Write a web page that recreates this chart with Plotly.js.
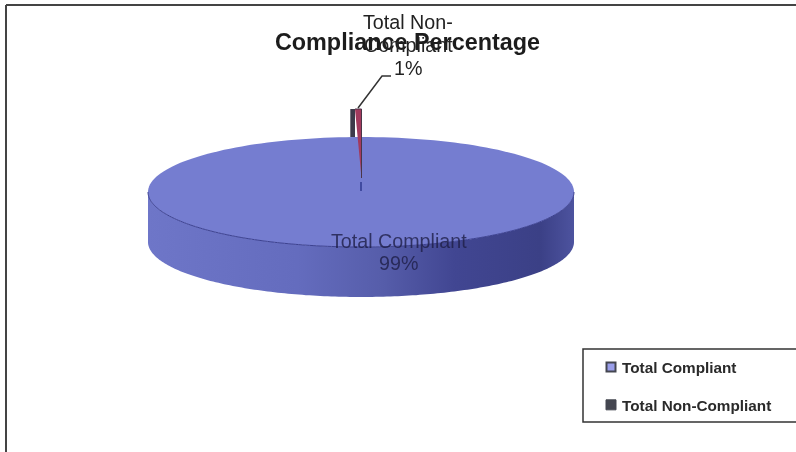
<!DOCTYPE html>
<html><head><meta charset="utf-8">
<script src="https://cdn.plot.ly/plotly-3.0.1.min.js"></script>
<style>html,body{margin:0;padding:0;background:#fff}#c{width:796px;height:452px;filter:blur(0.45px)}</style>
</head><body><div id="c"></div>
<script>
const categories = ["Total Compliant", "Total Non-Compliant"];
const percentages = [99, 1];
const chartTitle = "Compliance Percentage";
const swatchColors = ["#9a9eea", "#444650"];

// Projected pie geometry, in page pixels (axes map 1:1 to the page)
const cx = 361, cy = 192, rx = 213, ry = 55, depth = 50;
const liftedTop = 109, wedgeTip = 178;

function rim(fromDeg, toDeg, dy) {
  const xs = [], ys = [];
  const n = 180;
  for (let i = 0; i <= n; i++) {
    const a = (fromDeg + (toDeg - fromDeg) * i / n) * Math.PI / 180;
    xs.push(cx + rx * Math.sin(a));
    ys.push(cy - ry * Math.cos(a) + dy);
  }
  return [xs, ys];
}
const sweep = percentages[1] / 100 * 360;
const w = rx * Math.sin(sweep * Math.PI / 180);

const topFace = rim(0, 360, 0);
const frontTop = rim(90, 270, 0);
const frontBot = rim(270, 90, depth);
const side = [frontTop[0].concat(frontBot[0]), frontTop[1].concat(frontBot[1])];

const traces = [
  {x: side[0], y: side[1], mode: "lines", fill: "toself", line: {width: 0, simplify: false},
   fillgradient: {type: "horizontal", colorscale: [
     [0, "#6e76c8"], [0.35, "#646cbe"], [0.55, "#565daa"], [0.72, "#414692"], [0.92, "#3b4086"], [1, "#4d539f"]]},
   hoverinfo: "skip", showlegend: false},
  {x: topFace[0], y: topFace[1], mode: "lines", fill: "toself", fillcolor: "#757dd0",
   line: {width: 0, simplify: false}, hoverinfo: "skip", showlegend: false},
  {x: frontTop[0], y: frontTop[1], mode: "lines", line: {color: "#3c4190", width: 1, simplify: false},
   hoverinfo: "skip", showlegend: false},
  // dark cut side of the raised slice
  {x: [cx - 0.8 * w, cx - 0.45 * w, cx - 0.45 * w, cx - 0.8 * w], y: [liftedTop, liftedTop, cy - ry, cy - ry], mode: "lines",
   fill: "toself", fillcolor: "#3d3a4a", line: {width: 0}, hoverinfo: "skip", showlegend: false},
  // red face of the raised slice
  {x: [cx - 0.45 * w, cx + 0.5, cx + 0.5], y: [liftedTop, liftedTop, wedgeTip], mode: "lines",
   fill: "toself", fillcolor: "#a33a5e", line: {color: "#4a3548", width: 1}, hoverinfo: "skip", showlegend: false},
  {x: [cx, cx], y: [wedgeTip + 4, cy - 1], mode: "lines", line: {color: "#2f3a90", width: 1.5},
   hoverinfo: "skip", showlegend: false},
  // leader line
  {x: [cx - 3, cx + 21, cx + 30], y: [liftedTop - 1, 76, 76], mode: "lines",
   line: {color: "#333", width: 1.5}, hoverinfo: "skip", showlegend: false},
  // legend entries
  {x: [null], y: [null], mode: "markers", name: categories[0], legendgroup: "a",
   marker: {symbol: "square", size: 9, color: swatchColors[0], line: {color: "#444650", width: 2}}},
  {x: [null], y: [null], mode: "markers", name: categories[1], legendgroup: "b",
   marker: {symbol: "square", size: 10, color: swatchColors[1], line: {color: "#444650", width: 1}}}
];

const font = "Liberation Sans, Arial, sans-serif";
function label(x, y, text, color) {
  return {x: x, y: y, text: text, showarrow: false, xanchor: "center", yanchor: "middle",
    font: {family: font, size: 19.7, color: color}};
}
const layout = {
  width: 796, height: 452,
  margin: {l: 0, r: 0, t: 0, b: 0},
  paper_bgcolor: "#fff", plot_bgcolor: "#fff",
  xaxis: {range: [0, 796], visible: false, fixedrange: true},
  yaxis: {range: [452, 0], visible: false, fixedrange: true},
  title: {text: "<b>" + chartTitle + "</b>", x: 407.5 / 796, xanchor: "center", y: 1 - 42 / 452, yanchor: "middle",
    font: {family: font, size: 23.4, color: "#1c1c1c"}},
  showlegend: true,
  legend: {x: 582 / 796, y: 1 - 350.5 / 452, xanchor: "left", yanchor: "top",
    bgcolor: "rgba(0,0,0,0)", borderwidth: 0, tracegroupgap: 15, itemclick: false,
    font: {family: font, size: 15.3, color: "#2a2a2a", weight: "bold"}},
  shapes: [
    {type: "line", x0: 6, x1: 796, y0: 5, y1: 5, line: {color: "#444", width: 2}},
    {type: "line", x0: 6, x1: 6, y0: 5, y1: 452, line: {color: "#444", width: 2}},
    {type: "rect", x0: 583, x1: 800, y0: 349, y1: 422, line: {color: "#333", width: 1.5}}
  ],
  annotations: [
    label(408, 22, "Total Non-", "#222"),
    label(408, 45, "Compliant", "#222"),
    label(408, 68, percentages[1] + "%", "#222"),
    label(399, 241, categories[0], "rgba(30,30,70,0.8)"),
    label(398, 263, percentages[0] + "%", "rgba(30,30,70,0.8)")
  ]
};
Plotly.newPlot("c", traces, layout, {displayModeBar: false, staticPlot: true}).then(function (gd) {
  // the swatches sit right next to their text in the reference
  gd.querySelectorAll(".legendpoints").forEach(function (n) { n.setAttribute("transform", "translate(9,0)"); });
});
</script></body></html>
